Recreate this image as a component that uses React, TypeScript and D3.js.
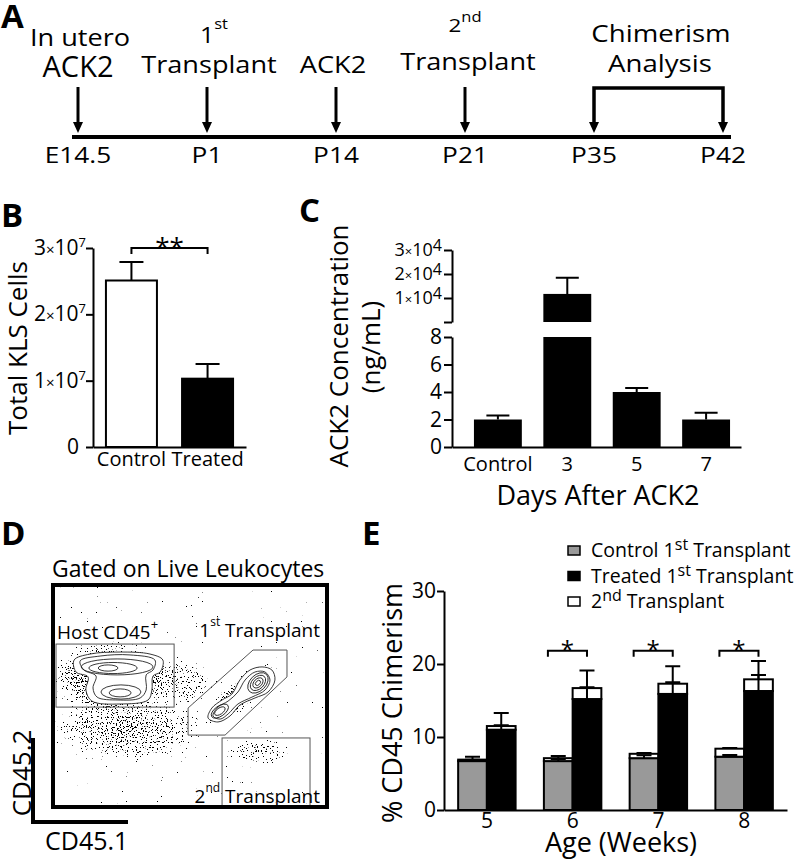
import React, { useRef, useEffect } from "react";
import * as d3 from "d3";

const FONT = "'Open Sans', 'Noto Sans', sans-serif";

// A: timeline
const timePoints = ["E14.5", "P1", "P14", "P21", "P35", "P42"];
const arrowPoints = ["E14.5", "P1", "P14", "P21"];
const analysisWindow = ["P35", "P42"];

// B: total KLS cells
const klsGroups = ["Control", "Treated"];
const klsMean = [2.51e7, 1.03e7];
const klsSem = [0.28e7, 0.22e7];
const klsTicks = [0, 1e7, 2e7, 3e7];

// C: ACK2 concentration (ng/mL), broken axis
const ackGroups = ["Control", "3", "5", "7"];
const ackMean = [2.0, 11700, 4.0, 2.0];
const ackSem = [0.3, 6700, 0.3, 0.5];
const ackLowTicks = [0, 2, 4, 6, 8];
const ackHighTicks = [0, 1e4, 2e4, 3e4];

// D: flow plot (CD45.1 vs CD45.2, arbitrary 0-100 units)
const hostGate = [[1.1, 45.0], [44.2, 73.4]];
const firstGate = [[49.3, 44.6], [49.3, 32.4], [62.8, 32.4], [85.4, 58.6], [85.4, 70.7], [73.0, 70.7]];
const secondGate = [[61.7, 0], [93.8, 31.1]];
const hostEnvelopes = [
  [[7.7, 66.2], [13.5, 68.9], [24.5, 69.8], [35.4, 68.9], [40.1, 66.2], [39.1, 60.8], [36.5, 59.0], [36.1, 52.7], [34.7, 48.2], [24.5, 46.4], [14.2, 47.7], [12.0, 52.7], [12.8, 58.6], [8.4, 60.8]],
  [[9.9, 65.8], [17.2, 68.0], [28.1, 68.5], [37.2, 66.2], [36.5, 61.7], [34.0, 59.5], [34.0, 52.7], [31.8, 49.1], [23.7, 48.2], [16.1, 49.5], [14.6, 53.6], [15.7, 59.0], [11.3, 61.7]],
];
const firstEnvelopes = [
  [[56.6, 40.1], [58.0, 44.6], [61.7, 48.2], [65.3, 50.9], [68.2, 57.2], [71.9, 61.7], [76.3, 63.1], [79.9, 61.7], [81.0, 57.2], [78.5, 51.8], [73.7, 49.1], [68.2, 45.9], [64.6, 41.0], [60.2, 38.3]],
  [[58.4, 41.0], [60.2, 45.0], [63.9, 47.7], [67.5, 51.8], [70.1, 57.2], [73.7, 60.8], [77.4, 60.8], [79.2, 57.2], [77.4, 52.7], [72.6, 49.5], [67.5, 46.4], [63.9, 41.9], [61.0, 39.6]],
];
const rings = [
  { cx: 23.4, cy: 63.1, rx: 13.1, ry: 3.6, rot: 0 },
  { cx: 21.9, cy: 62.6, rx: 8.8, ry: 2.5, rot: 0 },
  { cx: 20.1, cy: 62.6, rx: 3.6, ry: 1.4, rot: 0 },
  { cx: 24.8, cy: 51.8, rx: 7.3, ry: 3.2, rot: 0 },
  { cx: 24.5, cy: 51.4, rx: 4.0, ry: 1.8, rot: 0 },
  { cx: 74.8, cy: 55.9, rx: 4.4, ry: 3.6, rot: -45 },
  { cx: 74.8, cy: 55.9, rx: 3.3, ry: 2.7, rot: -45 },
  { cx: 74.8, cy: 55.9, rx: 2.2, ry: 1.8, rot: -45 },
  { cx: 74.8, cy: 55.9, rx: 1.1, ry: 0.9, rot: -45 },
  { cx: 60.9, cy: 43.2, rx: 3.6, ry: 2.3, rot: -35 },
  { cx: 60.9, cy: 43.2, rx: 2.2, ry: 1.4, rot: -35 },
];
const clouds = [
  { cx: 21.5, cy: 59.0, rx: 25, ry: 17, rot: 0, dens: 1.0 },
  { cx: 27, cy: 35, rx: 32, ry: 16, rot: 0, dens: 0.72 },
  { cx: 47, cy: 56, rx: 13, ry: 11, rot: 0, dens: 0.6 },
  { cx: 68.2, cy: 50.9, rx: 19, ry: 7, rot: -40, dens: 0.95 },
  { cx: 75, cy: 25, rx: 13, ry: 7, rot: 0, dens: 0.6 },
];

// E: % CD45 chimerism
const weeks = ["5", "6", "7", "8"];
const ctrlFirst = [6.7, 6.7, 7.1, 7.3];
const ctrlSecond = [0.2, 0.4, 0.6, 1.1];
const ctrlFirstErr = [0.2, 0.3, 0.4, 0.25];
const ctrlTotalErr = [0.4, 0.3, 0.1, 0.1];
const trtFirst = [11.0, 15.2, 15.9, 16.3];
const trtSecond = [0.5, 1.5, 1.4, 1.6];
const trtFirstErr = [0.6, 1.6, 1.6, 2.2];
const trtTotalErr = [1.8, 2.4, 2.4, 2.5];
const sigWeeks = ["6", "7", "8"];
const chimTicks = [0, 10, 20, 30];

function addText(g: any, str: string, x: number, y: number, size: number, opts: any = {}) {
  const sx = opts.sx || 1;
  return g.append("text")
    .attr("font-family", FONT)
    .attr("font-size", size)
    .attr("font-weight", opts.bold ? 700 : 400)
    .attr("text-anchor", opts.anchor || "start")
    .attr("fill", "#000")
    .attr("transform", `translate(${x},${y}) scale(${sx},1)` + (opts.rotate ? ` rotate(${opts.rotate})` : ""))
    .text(str);
}

function rich(g: any, parts: any[], x: number, y: number, opts: any = {}) {
  const t = g.append("text")
    .attr("font-family", FONT)
    .attr("text-anchor", opts.anchor || "start")
    .attr("fill", "#000")
    .attr("transform", `translate(${x},${y}) scale(${opts.sx || 1},1)`);
  let prev = 0;
  parts.forEach(([s, size, rise]: any) => {
    t.append("tspan").attr("font-size", size).attr("dy", prev - rise).text(s);
    prev = rise;
  });
  return t;
}

function styleAxis(a: any, size = 20) {
  a.attr("font-family", FONT).attr("font-size", size);
  a.select(".domain").attr("stroke-width", 2);
  a.selectAll(".tick line").attr("stroke-width", 2);
  a.selectAll("text").attr("fill", "#000");
}

function App() {
  const svgRef = useRef(null);

  useEffect(() => {
    const svg = d3.select(svgRef.current);
    svg.selectAll("*").remove();
    const defs = svg.append("defs");

    // ---------- A ----------
    const gA = svg.append("g");
    addText(gA, "A", 1, 28, 33, { bold: true });
    const tl = d3.scalePoint<string>().domain(timePoints).range([78, 723]);
    gA.append("line").attr("x1", 72).attr("x2", 731).attr("y1", 137).attr("y2", 137)
      .attr("stroke", "#000").attr("stroke-width", 4);
    const head = (x: number) => `${x - 5},122 ${x + 5},122 ${x},133`;
    arrowPoints.forEach((p) => {
      const x = tl(p) as number;
      gA.append("line").attr("x1", x).attr("x2", x).attr("y1", 87).attr("y2", 124)
        .attr("stroke", "#000").attr("stroke-width", 3);
      gA.append("polygon").attr("points", head(x)).attr("fill", "#000");
    });
    const [w0, w1] = analysisWindow.map((p) => tl(p) as number);
    gA.append("path").attr("d", `M${w0},124V88H${w1}V124`).attr("fill", "none")
      .attr("stroke", "#000").attr("stroke-width", 3.5);
    gA.append("polygon").attr("points", head(w0)).attr("fill", "#000");
    gA.append("polygon").attr("points", head(w1)).attr("fill", "#000");
    timePoints.forEach((p) => addText(gA, p, tl(p) as number, 163, 21, { anchor: "middle", sx: 1.25 }));

    addText(gA, "In utero", 80, 46, 23, { anchor: "middle", sx: 1.18 });
    addText(gA, "ACK2", 78, 77, 29, { anchor: "middle" });
    rich(gA, [["1", 21, 0], ["st", 14, 14]], 214, 43, { anchor: "middle", sx: 1.18 });
    addText(gA, "Transplant", 209, 73, 23, { anchor: "middle", sx: 1.18 });
    addText(gA, "ACK2", 333, 73, 23, { anchor: "middle", sx: 1.18 });
    rich(gA, [["2", 19, 0], ["nd", 14, 10]], 465, 32, { anchor: "middle", sx: 1.18 });
    addText(gA, "Transplant", 468, 70, 23, { anchor: "middle", sx: 1.18 });
    addText(gA, "Chimerism", 661, 42, 24, { anchor: "middle", sx: 1.15 });
    addText(gA, "Analysis", 660, 72, 24, { anchor: "middle", sx: 1.15 });

    // ---------- B ----------
    const gB = svg.append("g");
    addText(gB, "B", 1, 227, 33, { bold: true });
    const yB = d3.scaleLinear().domain([0, 3e7]).range([447, 248]);
    const xB = d3.scaleBand().domain(klsGroups).range([93, 246]).paddingInner(0.33).paddingOuter(0.17);
    const bwB = xB.bandwidth();
    klsGroups.forEach((g, i) => {
      const x = xB(g) as number;
      gB.append("rect").attr("x", x).attr("y", yB(klsMean[i])).attr("width", bwB)
        .attr("height", yB(0) - yB(klsMean[i]))
        .attr("fill", i === 0 ? "#fff" : "#000").attr("stroke", "#000").attr("stroke-width", 2);
      const cx = x + bwB / 2, top = yB(klsMean[i] + klsSem[i]);
      gB.append("path").attr("d", `M${cx},${yB(klsMean[i])}V${top}M${cx - 12},${top}H${cx + 12}`)
        .attr("stroke", "#000").attr("stroke-width", 2).attr("fill", "none");
    });
    const aBy = gB.append("g").attr("transform", "translate(93,0)")
      .call(d3.axisLeft(yB).tickValues(klsTicks).tickSize(7).tickSizeOuter(0).tickFormat(() => ""));
    styleAxis(aBy);
    const aBx = gB.append("g").attr("transform", "translate(0,447)")
      .call(d3.axisBottom(xB).tickSize(0).tickSizeOuter(0).tickPadding(5));
    styleAxis(aBx, 20);
    klsTicks.forEach((v) => {
      if (v === 0) addText(gB, "0", 79, yB(v) + 7, 21, { anchor: "end" });
      else rich(gB, [[`${v / 1e7}`, 21, 0], ["×", 15, 0], ["10", 21, 0], ["7", 13, 8]], 86, yB(v) + 7, { anchor: "end" });
    });
    const b0 = (xB("Control") as number) + bwB / 2, b1 = (xB("Treated") as number) + bwB / 2;
    gB.append("path").attr("d", `M${b0},254V248H${b1}V254`).attr("fill", "none")
      .attr("stroke", "#000").attr("stroke-width", 2);
    addText(gB, "**", (b0 + b1) / 2, 256, 26, { anchor: "middle" });
    addText(gB, "Total KLS Cells", 27, 348, 26, { anchor: "middle", rotate: -90 });

    // ---------- C ----------
    const gC = svg.append("g");
    addText(gC, "C", 299, 222, 33, { bold: true });
    const yLow = d3.scaleLinear().domain([0, 8]).range([447, 337]);
    const yHigh = d3.scaleLinear().domain([0, 3e4]).range([322, 250]);
    const xC = d3.scaleBand().domain(ackGroups).range([452, 741]).paddingInner(0.31).paddingOuter(0.237).align(0.667);
    const bwC = xC.bandwidth();
    ackGroups.forEach((g, i) => {
      const x = xC(g) as number, cx = x + bwC / 2;
      const m = ackMean[i], s = ackSem[i];
      const broken = m > 8;
      const y = broken ? yLow(8) : yLow(m);
      gC.append("rect").attr("x", x).attr("y", y).attr("width", bwC).attr("height", yLow(0) - y).attr("fill", "#000");
      let yt, ye;
      if (broken) {
        gC.append("rect").attr("x", x).attr("y", yHigh(m)).attr("width", bwC)
          .attr("height", yHigh(0) - yHigh(m)).attr("fill", "#000");
        yt = yHigh(m); ye = yHigh(m + s);
      } else { yt = yLow(m); ye = yLow(m + s); }
      gC.append("path").attr("d", `M${cx},${yt}V${ye}M${cx - 11.5},${ye}H${cx + 11.5}`)
        .attr("stroke", "#000").attr("stroke-width", 2).attr("fill", "none");
    });
    const aCl = gC.append("g").attr("transform", "translate(452,0)")
      .call(d3.axisLeft(yLow).tickValues(ackLowTicks).tickSize(8).tickSizeOuter(0).tickPadding(2).tickFormat(d3.format("d")));
    styleAxis(aCl, 21);
    const aCh = gC.append("g").attr("transform", "translate(452,0)")
      .call(d3.axisLeft(yHigh).tickValues(ackHighTicks).tickSize(8).tickSizeOuter(0).tickFormat(() => ""));
    styleAxis(aCh);
    ackHighTicks.filter((v) => v > 0).forEach((v) =>
      rich(gC, [[`${v / 1e4}`, 18, 0], ["×", 13, 0], ["10", 18, 0], ["4", 16, 5]], 442, yHigh(v) + 6, { anchor: "end" }));
    const aCx = gC.append("g").attr("transform", "translate(0,447)")
      .call(d3.axisBottom(xC).tickSize(0).tickSizeOuter(0).tickPadding(10));
    styleAxis(aCx, 20);
    addText(gC, "Days After ACK2", 598, 505, 27, { anchor: "middle" });
    addText(gC, "ACK2 Concentration", 348, 346, 26, { anchor: "middle", rotate: -90 });
    addText(gC, "(ng/mL)", 380, 347, 26, { anchor: "middle", rotate: -90 });

    // ---------- D ----------
    const gD = svg.append("g");
    addText(gD, "D", 1, 545, 33, { bold: true });
    addText(gD, "Gated on Live Leukocytes", 52, 577, 23);
    const fx = d3.scaleLinear().domain([0, 100]).range([53, 327]);
    const fy = d3.scaleLinear().domain([0, 100]).range([807, 585]);
    const kx = fx(1) - fx(0), ky = fy(0) - fy(1);

    const rg = defs.append("radialGradient").attr("id", "cloudFade");
    rg.append("stop").attr("offset", "0%").attr("stop-color", "#000").attr("stop-opacity", 1);
    rg.append("stop").attr("offset", "60%").attr("stop-color", "#000").attr("stop-opacity", 0.7);
    rg.append("stop").attr("offset", "100%").attr("stop-color", "#000").attr("stop-opacity", 0);
    // stipple texture: noise thresholded by the local cloud density
    const f = defs.append("filter").attr("id", "speckle").attr("filterUnits", "userSpaceOnUse")
      .attr("x", 53).attr("y", 585).attr("width", 274).attr("height", 222)
      .attr("color-interpolation-filters", "sRGB");
    f.append("feTurbulence").attr("type", "fractalNoise").attr("baseFrequency", 0.8)
      .attr("numOctaves", 1).attr("seed", 7).attr("result", "noise");
    f.append("feColorMatrix").attr("in", "noise").attr("type", "matrix")
      .attr("values", "0 0 0 0 0  0 0 0 0 0  0 0 0 0 0  1 0 0 0 0").attr("result", "grain");
    f.append("feComposite").attr("in", "SourceAlpha").attr("in2", "grain").attr("operator", "arithmetic")
      .attr("k1", 0).attr("k2", 0.26).attr("k3", 1).attr("k4", -0.75).attr("result", "mix");
    f.append("feComponentTransfer").attr("in", "mix")
      .append("feFuncA").attr("type", "linear").attr("slope", 40).attr("intercept", 0);
    defs.append("clipPath").attr("id", "flowClip").append("rect")
      .attr("x", 53).attr("y", 585).attr("width", 274).attr("height", 222);

    const gCloud = gD.append("g").attr("clip-path", "url(#flowClip)").append("g").attr("filter", "url(#speckle)");
    clouds.forEach((c) => {
      gCloud.append("ellipse")
        .attr("transform", `translate(${fx(c.cx)},${fy(c.cy)}) rotate(${c.rot})`)
        .attr("rx", c.rx * kx).attr("ry", c.ry * ky)
        .attr("fill", "url(#cloudFade)").attr("fill-opacity", c.dens);
    });

    const contour = d3.line<number[]>().x((d) => fx(d[0])).y((d) => fy(d[1])).curve(d3.curveCatmullRomClosed.alpha(0.5));
    [...hostEnvelopes, ...firstEnvelopes].forEach((pts, i) => {
      gD.append("path").attr("d", contour(pts))
        .attr("fill", i % 2 === 0 ? "#fff" : "none").attr("stroke", "#222").attr("stroke-width", 0.9);
    });
    rings.forEach((r) => {
      gD.append("ellipse")
        .attr("transform", `translate(${fx(r.cx)},${fy(r.cy)}) rotate(${r.rot})`)
        .attr("rx", r.rx * kx).attr("ry", r.ry * ky)
        .attr("fill", "none").attr("stroke", "#222").attr("stroke-width", 0.9);
    });

    gD.append("rect").attr("x", fx(hostGate[0][0])).attr("y", fy(hostGate[1][1]))
      .attr("width", fx(hostGate[1][0]) - fx(hostGate[0][0])).attr("height", fy(hostGate[0][1]) - fy(hostGate[1][1]))
      .attr("fill", "none").attr("stroke", "#555").attr("stroke-width", 1);
    gD.append("polygon").attr("points", firstGate.map((p) => `${fx(p[0])},${fy(p[1])}`).join(" "))
      .attr("fill", "none").attr("stroke", "#555").attr("stroke-width", 1);
    gD.append("rect").attr("x", fx(secondGate[0][0])).attr("y", fy(secondGate[1][1]))
      .attr("width", fx(secondGate[1][0]) - fx(secondGate[0][0])).attr("height", fy(secondGate[0][1]) - fy(secondGate[1][1]))
      .attr("fill", "none").attr("stroke", "#555").attr("stroke-width", 1);
    gD.append("rect").attr("x", fx(0)).attr("y", fy(100)).attr("width", fx(100) - fx(0)).attr("height", fy(0) - fy(100))
      .attr("fill", "none").attr("stroke", "#000").attr("stroke-width", 4);

    rich(gD, [["Host CD45", 19, 0], ["+", 13, 10]], 57, 639);
    rich(gD, [["1", 19, 0], ["st", 12, 11], ["\u00a0Transplant", 19, 0]], 320, 637, { anchor: "end" });
    rich(gD, [["2", 19, 0], ["nd", 12, 11], ["\u00a0Transplant", 19, 0]], 320, 803, { anchor: "end" });

    gD.append("path").attr("d", "M33,738V822H128").attr("fill", "none").attr("stroke", "#000").attr("stroke-width", 4);
    addText(gD, "CD45.1", 45, 850, 25);
    addText(gD, "CD45.2", 31, 773, 26, { anchor: "middle", rotate: -90 });

    // ---------- E ----------
    const gE = svg.append("g");
    addText(gE, "E", 362, 545, 33, { bold: true });
    const yE = d3.scaleLinear().domain([0, 30]).range([810, 591]);
    const xE = d3.scaleBand().domain(weeks).range([444, 787]).paddingInner(0.33).paddingOuter(0.165);
    const xSub = d3.scaleBand().domain(["ctrl", "trt"]).range([0, xE.bandwidth()]);
    const bw = xSub.bandwidth();
    const series = [
      { key: "ctrl", fill: "#999", first: ctrlFirst, second: ctrlSecond, e1: ctrlFirstErr, e2: ctrlTotalErr },
      { key: "trt", fill: "#000", first: trtFirst, second: trtSecond, e1: trtFirstErr, e2: trtTotalErr },
    ];
    const errPath = (cx: number, y0: number, y1: number) => `M${cx},${y0}V${y1}M${cx - 7.5},${y1}H${cx + 7.5}`;
    weeks.forEach((w, i) => {
      series.forEach((s) => {
        const x = (xE(w) as number) + (xSub(s.key) as number), cx = x + bw / 2;
        const a = s.first[i], tot = a + s.second[i];
        gE.append("rect").attr("x", x).attr("y", yE(a)).attr("width", bw).attr("height", yE(0) - yE(a))
          .attr("fill", s.fill).attr("stroke", "#000").attr("stroke-width", 2);
        gE.append("rect").attr("x", x).attr("y", yE(tot)).attr("width", bw).attr("height", yE(a) - yE(tot))
          .attr("fill", "#fff").attr("stroke", "#000").attr("stroke-width", 2);
        gE.append("path").attr("d", errPath(cx, yE(a), yE(a + s.e1[i])))
          .attr("stroke", "#000").attr("stroke-width", 2).attr("fill", "none");
        gE.append("path").attr("d", errPath(cx, yE(tot), yE(tot + s.e2[i])))
          .attr("stroke", "#000").attr("stroke-width", 2).attr("fill", "none");
      });
    });
    sigWeeks.forEach((w) => {
      const x0 = (xE(w) as number) + 4, x1 = (xE(w) as number) + (xSub("trt") as number) + bw / 2;
      const y = yE(21.8);
      gE.append("path").attr("d", `M${x0},${y + 6}V${y}H${x1}V${y + 6}`).attr("fill", "none")
        .attr("stroke", "#000").attr("stroke-width", 2);
      addText(gE, "*", (x0 + x1) / 2, y + 7, 24, { anchor: "middle" });
    });
    const aEy = gE.append("g").attr("transform", "translate(444,0)")
      .call(d3.axisLeft(yE).tickValues(chimTicks).tickSize(7).tickSizeOuter(0).tickPadding(1));
    styleAxis(aEy, 21);
    const aEx = gE.append("g").attr("transform", "translate(0,810)")
      .call(d3.axisBottom(xE).tickSize(0).tickSizeOuter(0).tickPadding(3));
    styleAxis(aEx, 21);
    addText(gE, "% CD45 Chimerism", 402, 703, 27, { anchor: "middle", rotate: -90 });
    addText(gE, "Age (Weeks)", 621, 852, 27, { anchor: "middle" });

    const legendRows = [
      { fill: "#999", parts: [["Control 1", 19.5, 0], ["st", 16, 7], ["\u00a0Transplant", 19.5, 0]] },
      { fill: "#000", parts: [["Treated 1", 19.5, 0], ["st", 16, 7], ["\u00a0Transplant", 19.5, 0]] },
      { fill: "#fff", parts: [["2", 19.5, 0], ["nd", 16, 7], ["\u00a0Transplant", 19.5, 0]] },
    ];
    const legY = d3.scalePoint<number>().domain([0, 1, 2]).range([557, 608]);
    legendRows.forEach((r, i) => {
      const y = legY(i) as number;
      gE.append("rect").attr("x", 568).attr("y", y - 11).attr("width", 12).attr("height", 9)
        .attr("fill", r.fill).attr("stroke", "#000").attr("stroke-width", 1.5);
      rich(gE, r.parts, 591, y);
    });
  }, []);

  return (
    <svg ref={svgRef} width={798} height={864}
      style={{ position: "absolute", left: 0, top: 0, background: "#fff" }} />
  );
}

export default App;
